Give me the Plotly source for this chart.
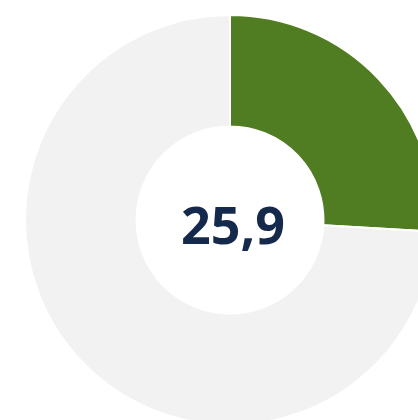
import plotly.graph_objects as go

labels = ["Anteil", "Rest"]
values = [25.9, 74.1]
center_label = "25,9"
colors = ["#507c22", "#f2f2f2"]

W, H = 460, 440
cx, cy, R = 230, 220, 205

fig = go.Figure(go.Pie(
    labels=labels,
    values=values,
    sort=False,
    direction="clockwise",
    rotation=0,
    hole=0.456,
    textinfo="none",
    hoverinfo="none",
    showlegend=False,
    marker=dict(colors=colors, line=dict(color="white", width=2)),
    domain=dict(x=[0, 1], y=[(H - cy - R) / H, (H - cy + R) / H]),
))

fig.add_annotation(
    text="<b>" + center_label + "</b>",
    x=(cx + 3) / W, y=1 - (cy + 4) / H, xref="paper", yref="paper",
    showarrow=False,
    font=dict(family="Noto Sans", size=52, color="#14294b"),
)

fig.update_layout(
    width=W, height=H,
    margin=dict(l=0, r=0, t=0, b=0),
    paper_bgcolor="white", plot_bgcolor="white",
)

fig.write_html(
    "out.html",
    config={"displayModeBar": False},
    post_script="document.body.style.margin='0';document.body.style.overflow='hidden';document.documentElement.style.overflow='hidden';",
)
